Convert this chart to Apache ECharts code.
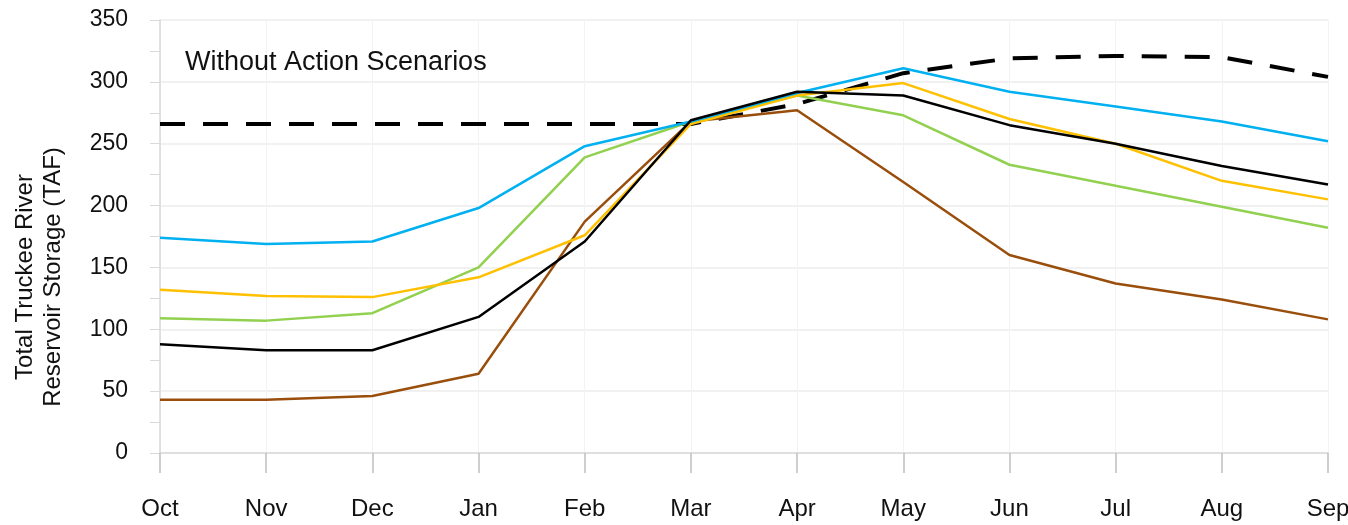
<!DOCTYPE html>
<html>
<head>
<meta charset="utf-8">
<script src="https://cdn.jsdelivr.net/npm/echarts@6/dist/echarts.min.js"></script>
<style>
  html, body { margin: 0; padding: 0; background: #fff; }
  #chart { width: 1348px; height: 525px; }
</style>
</head>
<body>
<div id="chart"></div>
<script>
// months of the water year
const months = ['Oct', 'Nov', 'Dec', 'Jan', 'Feb', 'Mar', 'Apr', 'May', 'Jun', 'Jul', 'Aug', 'Sep']

// storage, TAF
const dashedBase = [266, 266, 266, 266, 266, 266, 282, 307, 319, 321, 320, 304]
const blueLine   = [174, 169, 171, 198, 248, 268, 291, 311, 292, 280, 268, 252]
const yellowLine = [132, 127, 126, 142, 176, 266, 289, 299, 270, 250, 220, 205]
const greenLine  = [109, 107, 113, 150, 239, 268, 289, 273, 233, 216, 199, 182]
const blackLine  = [88, 83, 83, 110, 171, 269, 292, 289, 265, 250, 232, 217]
const brownLine  = [43, 43, 46, 64, 187, 268, 277, 219, 160, 137, 124, 108]

const yTicks = { min: 0, max: 350, step: 50 }

const font = '"Liberation Sans", Arial, sans-serif'

let chart = echarts.init(document.getElementById('chart'))

function solid (name, data, color) {
  return {
    name: name,
    type: 'line',
    data: data,
    symbol: 'none',
    lineStyle: { color: color, width: 2.5 },
    itemStyle: { color: color }
  }
}

chart.setOption({
  animation: false,
  title: {
    text: 'Without Action Scenarios',
    left: 180,
    top: 44,
    textStyle: { fontFamily: font, fontSize: 27, fontWeight: 'normal', color: '#111' }
  },
  // axis name drawn by hand, it sits lower than the axis middle
  graphic: [{
    type: 'text',
    x: 39,
    y: 277,
    rotation: Math.PI / 2,
    style: {
      text: 'Total Truckee River\nReservoir Storage (TAF)',
      fontFamily: font,
      fontSize: 24,
      lineHeight: 28,
      fill: '#111',
      align: 'center',
      verticalAlign: 'middle'
    }
  }],
  grid: { left: 160, right: 20, top: 20, bottom: 72, containLabel: false, outerBoundsMode: 'none' },
  xAxis: {
    type: 'category',
    data: months,
    boundaryGap: false,
    axisLine: { lineStyle: { color: '#d9d9d9', width: 1.5 } },
    axisTick: { length: 20, lineStyle: { color: '#bfbfbf', width: 1.5 } },
    axisLabel: { color: '#111', fontFamily: font, fontSize: 24, margin: 44 },
    splitLine: { show: true, lineStyle: { color: '#f3f3f3' } }
  },
  yAxis: {
    type: 'value',
    min: yTicks.min,
    max: yTicks.max,
    interval: yTicks.step,
    axisLine: { show: true, lineStyle: { color: '#d9d9d9', width: 1.5 } },
    axisTick: { show: true, length: 10, lineStyle: { color: '#d9d9d9' } },
    minorTick: { show: true, splitNumber: 2, length: 10, lineStyle: { color: '#d9d9d9' } },
    axisLabel: { color: '#111', fontFamily: font, fontSize: 23, margin: 32 },
    splitLine: { lineStyle: { color: '#ececec', width: 1.5 } }
  },
  series: [
    {
      name: 'Baseline',
      type: 'line',
      data: dashedBase,
      symbol: 'none',
      lineStyle: { color: '#000', width: 4, type: [25, 18] }
    },
    solid('Brown', brownLine, '#9a4e0c'),
    solid('Green', greenLine, '#92d050'),
    solid('Yellow', yellowLine, '#ffc000'),
    solid('Blue', blueLine, '#00b0f0'),
    solid('Black', blackLine, '#000000')
  ]
})
</script>
</body>
</html>
